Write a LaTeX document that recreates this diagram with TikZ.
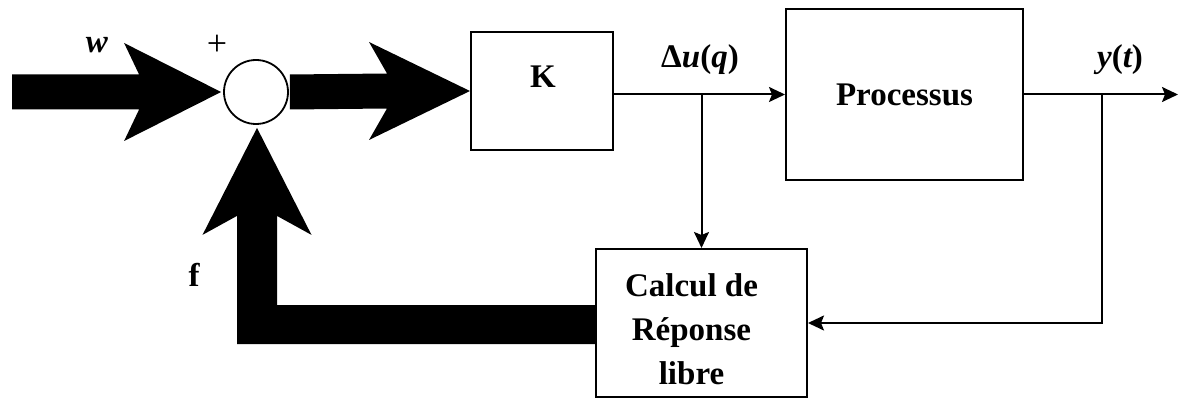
\documentclass[tikz,border=0pt]{standalone}
\usepackage{fontspec}
\setmainfont{Liberation Serif}
\usetikzlibrary{arrows.meta,calc}
\begin{document}
\begin{tikzpicture}[x=1pt,y=-1pt,
  box/.style={draw,line width=2pt,inner sep=0pt},
  lbl/.style={font=\fontsize{33}{44}\selectfont\bfseries,inner sep=0pt},
  arr/.style={line width=2pt,-{Stealth[length=16pt,width=15pt,inset=3pt]}},
  bigarrow/.style={fill=black}]
\useasboundingbox (0,0) rectangle (1178,398);
% nodes
\node[draw,circle,line width=1.8pt,minimum size=64pt,inner sep=0pt] (sum) at (256,92) {};
\node[box,minimum width=142pt,minimum height=118pt] (K) at (542,91) {};
\node[lbl] (Ktext) at ($(K.center)+(1,-14)$) {K};
\node[box,minimum width=237pt,minimum height=171pt,lbl] (proc) at (904.5,94.5) {Processus};
\node[box,minimum width=211pt,minimum height=148pt] (calc) at (701.5,323) {};
\node[lbl,align=center] (calctext) at ($(calc.center)+(-10,6)$) {Calcul de\\Réponse\\libre};
\coordinate (win) at (12,92);
\coordinate (b1) at (calc.north |- proc.west);
\coordinate (b2) at (1102,94.5);
\coordinate (yout) at (1178,94.5);
% thick arrows
\fill[bigarrow] ($(win)+(0,-17.5)$) -- ($(sum.west)+(-84,-17.5)$) -- ($(sum.west)+(-99,-49)$)
  -- ($(sum.west)+(-2,0)$) -- ($(sum.west)+(-99,49)$) -- ($(sum.west)+(-84,17.5)$)
  -- ($(win)+(0,17.5)$) -- cycle;
\fill[bigarrow] ($(sum.east)+(1,-17.5)$) -- ($(K.west)+(-83,-17.5)$) -- ($(K.west)+(-101,-49)$)
  -- (K.west) -- ($(K.west)+(-101,49)$) -- ($(K.west)+(-83,17.5)$)
  -- ($(sum.east)+(1,17.5)$) -- cycle;
\fill[bigarrow] ($(calc.west)+(0,-18)$) -- ($(sum.south |- calc.west)+(21,-18)$)
  -- ($(sum.south)+(21,91)$) -- ($(sum.south)+(55.5,110)$) -- ($(sum.south)+(1,3)$)
  -- ($(sum.south)+(-53.5,110)$) -- ($(sum.south)+(-19,91)$)
  -- ($(sum.south |- calc.west)+(-19,21)$) -- ($(calc.west)+(0,21)$) -- cycle;
% thin connectors
\draw[arr] (K.east |- proc.west) -- (proc.west);
\draw[arr] (b1) -- (calc.north);
\draw[arr] (proc.east) -- (yout);
\draw[arr] (b2) |- (calc.east);
% labels
\node[lbl] (wl) at (97,45) {\itshape w};
\node[font=\fontsize{36}{40}\selectfont,inner sep=0pt] (pl) at (217,45) {+};
\node[lbl] (dul) at (700,60) {Δ\itshape u\upshape(\itshape q\upshape)};
\node[lbl] (ytl) at (1120,60) {\itshape y\upshape(\itshape t\upshape)};
\node[lbl] (fl) at (194,275) {f};
\end{tikzpicture}
\end{document}
